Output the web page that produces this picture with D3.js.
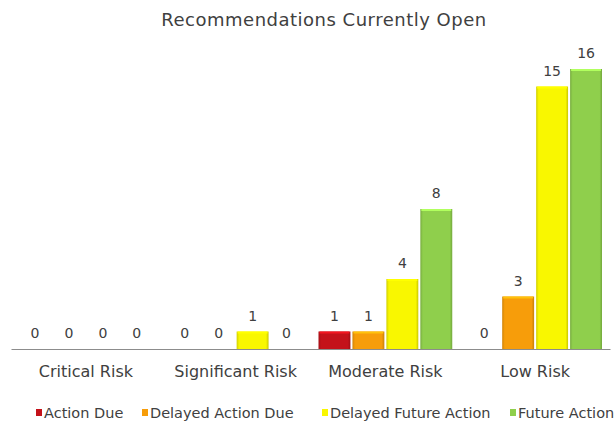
<!DOCTYPE html>
<html>
<head>
<meta charset="utf-8">
<script src="https://cdn.jsdelivr.net/npm/d3@7"></script>
<style>
  html, body { margin: 0; padding: 0; background: #fff; }
  svg { display: block; }
  text { font-family: "DejaVu Sans", sans-serif; fill: #404040; }
</style>
</head>
<body>
<svg id="chart" width="615" height="425"></svg>
<script>
// Risk categories along the x axis
const categories = ["Critical Risk", "Significant Risk", "Moderate Risk", "Low Risk"];
// Series names (legend order)
const seriesNames = ["Action Due", "Delayed Action Due", "Delayed Future Action", "Future Action"];
// Counts per series, one per category
const actionDue = [0, 0, 1, 0];
const delayedActionDue = [0, 0, 1, 3];
const delayedFutureAction = [0, 1, 4, 15];
const futureAction = [0, 0, 8, 16];
const seriesColors = ["#c4121a", "#f79d0a", "#f9f700", "#8fcf4c"];

const seriesValues = [actionDue, delayedActionDue, delayedFutureAction, futureAction];

const svg = d3.select("#chart");
const baseY = 349, topY = 69;

const x0 = d3.scaleBand().domain(categories).range([11, 610]).paddingInner(0).paddingOuter(0);
const x1 = d3.scaleBand().domain(seriesNames).range([8, x0.bandwidth() - 8]).paddingInner(0.06);
const y = d3.scaleLinear().domain([0, 16]).range([baseY, topY]);

// Bevel-like gradients for the bars
const defs = svg.append("defs");
seriesColors.forEach((c, i) => {
  const g = defs.append("linearGradient").attr("id", "grad" + i)
    .attr("x1", "0").attr("x2", "1").attr("y1", "0").attr("y2", "0");
  const base = d3.color(c);
  g.append("stop").attr("offset", "0%").attr("stop-color", base.darker(0.5));
  g.append("stop").attr("offset", "8%").attr("stop-color", base);
  g.append("stop").attr("offset", "92%").attr("stop-color", base);
  g.append("stop").attr("offset", "100%").attr("stop-color", base.darker(0.6));
});

// Title
svg.append("text")
  .attr("x", 324).attr("y", 26)
  .attr("text-anchor", "middle")
  .attr("font-size", 18)
  .attr("letter-spacing", 0.5)
  .text("Recommendations Currently Open");

// Bars and value labels
const groups = svg.append("g").selectAll("g")
  .data(categories)
  .join("g")
  .attr("transform", d => `translate(${x0(d)},0)`);

groups.each(function(cat, ci) {
  const g = d3.select(this);
  seriesNames.forEach((s, si) => {
    const v = seriesValues[si][ci];
    const bx = x1(s), bw = x1.bandwidth();
    if (v > 0) {
      g.append("rect")
        .attr("x", bx).attr("y", y(v))
        .attr("width", bw).attr("height", baseY - y(v))
        .attr("fill", `url(#grad${si})`);
      // highlight at the top edge
      g.append("rect")
        .attr("x", bx + 1).attr("y", y(v))
        .attr("width", bw - 2).attr("height", 2)
        .attr("fill", d3.color(seriesColors[si]).brighter(0.6));
    }
    g.append("text")
      .attr("x", bx + bw / 2)
      .attr("y", y(v) - 11)
      .attr("text-anchor", "middle")
      .attr("font-size", 14)
      .text(v);
  });
});

// Category axis
const axis = svg.append("g").attr("transform", `translate(0,${baseY})`)
  .call(d3.axisBottom(x0).tickSize(0).tickPadding(0));
axis.select(".domain").attr("stroke", "#8c8c8c").attr("stroke-width", 1.2);
axis.selectAll(".tick text")
  .attr("dy", 0).attr("y", 28)
  .attr("font-size", 16)
  .style("font-family", '"DejaVu Sans", sans-serif')
  .attr("fill", "#404040");

// Legend
const legendX = [36, 142, 322, 510];
const legend = svg.append("g").selectAll("g")
  .data(seriesNames)
  .join("g")
  .attr("transform", (d, i) => `translate(${legendX[i]},${413})`);
legend.append("rect")
  .attr("x", 0).attr("y", -4).attr("width", 6).attr("height", 7)
  .attr("fill", (d, i) => seriesColors[i]);
legend.append("text")
  .attr("x", 8).attr("y", 5)
  .attr("font-size", 14.5)
  .text(d => d);
</script>
</body>
</html>
